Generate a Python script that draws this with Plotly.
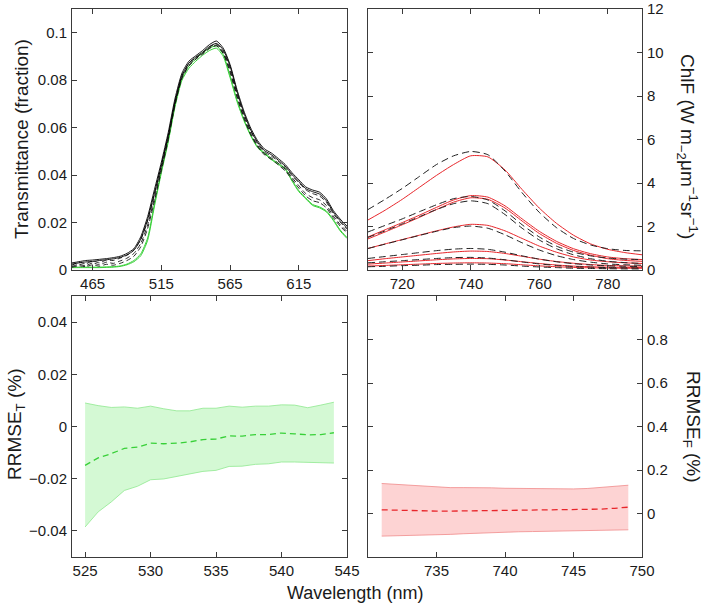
import plotly.graph_objects as go

# ---------------- DATA ----------------
# Top-left: transmittance spectra
T_WL = list(range(450, 655, 5))
T_BLACK_1 = [0.0030, 0.0035, 0.0040, 0.0042, 0.0045, 0.0048, 0.0052, 0.0058, 0.0070, 0.0090,
             0.0140, 0.0225, 0.0340, 0.0455, 0.0580, 0.0725, 0.0830, 0.0880, 0.0903, 0.0925,
             0.0950, 0.0965, 0.0935, 0.0865, 0.0760, 0.0670, 0.0598, 0.0545, 0.0510, 0.0493,
             0.0470, 0.0445, 0.0410, 0.0380, 0.0350, 0.0337, 0.0328, 0.0300, 0.0251, 0.0215, 0.0185]
T_BLACK_2 = [0.0025, 0.0030, 0.0034, 0.0036, 0.0040, 0.0043, 0.0047, 0.0053, 0.0064, 0.0083,
             0.0130, 0.0212, 0.0325, 0.0442, 0.0568, 0.0712, 0.0820, 0.0872, 0.0897, 0.0918,
             0.0942, 0.0955, 0.0928, 0.0858, 0.0752, 0.0662, 0.0590, 0.0538, 0.0503, 0.0486,
             0.0463, 0.0438, 0.0403, 0.0373, 0.0343, 0.0330, 0.0320, 0.0292, 0.0244, 0.0208, 0.0178]
T_DASH_1 = [0.0020, 0.0032, 0.0026, 0.0038, 0.0030, 0.0042, 0.0040, 0.0050, 0.0062, 0.0085,
            0.0128, 0.0208, 0.0320, 0.0440, 0.0565, 0.0710, 0.0818, 0.0870, 0.0895, 0.0915,
            0.0940, 0.0952, 0.0922, 0.0850, 0.0745, 0.0655, 0.0585, 0.0532, 0.0497, 0.0480,
            0.0458, 0.0432, 0.0398, 0.0368, 0.0338, 0.0322, 0.0312, 0.0285, 0.0238, 0.0202, 0.0172]
T_DASH_2 = [0.0015, 0.0024, 0.0018, 0.0030, 0.0022, 0.0033, 0.0028, 0.0038, 0.0050, 0.0070,
            0.0112, 0.0190, 0.0305, 0.0428, 0.0555, 0.0702, 0.0812, 0.0864, 0.0890, 0.0912,
            0.0936, 0.0948, 0.0916, 0.0840, 0.0735, 0.0646, 0.0576, 0.0525, 0.0490, 0.0472,
            0.0450, 0.0425, 0.0390, 0.0355, 0.0322, 0.0305, 0.0296, 0.0272, 0.0228, 0.0192, 0.0162]
T_DASH_3 = [0.0012, 0.0018, 0.0014, 0.0022, 0.0016, 0.0024, 0.0020, 0.0028, 0.0040, 0.0058,
            0.0098, 0.0175, 0.0292, 0.0420, 0.0550, 0.0698, 0.0808, 0.0860, 0.0888, 0.0910,
            0.0933, 0.0945, 0.0912, 0.0832, 0.0728, 0.0640, 0.0570, 0.0520, 0.0485, 0.0466,
            0.0443, 0.0418, 0.0382, 0.0345, 0.0312, 0.0292, 0.0284, 0.0262, 0.0220, 0.0185, 0.0155]
T_GREEN_1 = [0.0010, 0.0010, 0.0010, 0.0010, 0.0010, 0.0011, 0.0012, 0.0015, 0.0022, 0.0035,
             0.0060, 0.0125, 0.0270, 0.0410, 0.0540, 0.0690, 0.0800, 0.0850, 0.0880, 0.0905,
             0.0925, 0.0935, 0.0900, 0.0810, 0.0710, 0.0630, 0.0565, 0.0515, 0.0490, 0.0465,
             0.0445, 0.0425, 0.0375, 0.0330, 0.0300, 0.0272, 0.0262, 0.0245, 0.0209, 0.0165, 0.0133]
T_GREEN_2 = [0.0012, 0.0012, 0.0012, 0.0012, 0.0012, 0.0013, 0.0014, 0.0017, 0.0025, 0.0040,
             0.0068, 0.0135, 0.0280, 0.0418, 0.0548, 0.0698, 0.0808, 0.0860, 0.0890, 0.0915,
             0.0935, 0.0945, 0.0908, 0.0818, 0.0716, 0.0635, 0.0569, 0.0519, 0.0494, 0.0469,
             0.0449, 0.0429, 0.0379, 0.0334, 0.0304, 0.0276, 0.0266, 0.0249, 0.0213, 0.0169, 0.0137]

# Top-right: chlorophyll fluorescence spectra
F_WL = list(range(710, 795, 5))
F_RED = [
    [2.30, 2.75, 3.25, 3.80, 4.35, 4.85, 5.25, 5.20, 4.60, 3.70, 2.85, 2.15, 1.60, 1.20, 0.95, 0.80, 0.70],
    [1.52, 1.85, 2.18, 2.52, 2.88, 3.22, 3.42, 3.35, 2.95, 2.35, 1.78, 1.32, 0.98, 0.75, 0.60, 0.52, 0.48],
    [1.43, 1.75, 2.08, 2.42, 2.78, 3.12, 3.32, 3.25, 2.85, 2.25, 1.68, 1.23, 0.90, 0.68, 0.52, 0.44, 0.40],
    [0.99, 1.20, 1.40, 1.60, 1.80, 1.98, 2.10, 2.05, 1.80, 1.45, 1.10, 0.82, 0.60, 0.46, 0.38, 0.33, 0.30],
    [0.43, 0.52, 0.60, 0.68, 0.76, 0.83, 0.87, 0.85, 0.76, 0.63, 0.50, 0.39, 0.31, 0.25, 0.21, 0.19, 0.18],
    [0.27, 0.32, 0.37, 0.42, 0.47, 0.51, 0.53, 0.52, 0.46, 0.38, 0.30, 0.23, 0.18, 0.15, 0.13, 0.12, 0.11],
    [0.18, 0.21, 0.24, 0.27, 0.30, 0.32, 0.33, 0.32, 0.29, 0.24, 0.19, 0.15, 0.12, 0.10, 0.09, 0.08, 0.08],
]
F_DASH = [
    [2.78, 3.25, 3.75, 4.30, 4.85, 5.25, 5.45, 5.30, 4.55, 3.55, 2.65, 1.95, 1.45, 1.15, 0.98, 0.90, 0.88],
    [1.75, 2.05, 2.35, 2.68, 3.00, 3.28, 3.38, 3.22, 2.72, 2.08, 1.52, 1.10, 0.82, 0.65, 0.55, 0.50, 0.48],
    [1.50, 1.80, 2.12, 2.45, 2.78, 3.05, 3.18, 3.05, 2.55, 1.92, 1.38, 0.98, 0.70, 0.52, 0.40, 0.34, 0.30],
    [0.99, 1.19, 1.39, 1.59, 1.78, 1.95, 2.02, 1.92, 1.62, 1.25, 0.92, 0.66, 0.48, 0.36, 0.28, 0.24, 0.22],
    [0.53, 0.62, 0.71, 0.80, 0.89, 0.96, 0.99, 0.95, 0.82, 0.65, 0.50, 0.38, 0.29, 0.23, 0.19, 0.17, 0.16],
    [0.33, 0.38, 0.43, 0.48, 0.53, 0.57, 0.58, 0.55, 0.47, 0.37, 0.28, 0.21, 0.16, 0.13, 0.11, 0.10, 0.09],
    [0.15, 0.17, 0.20, 0.22, 0.25, 0.26, 0.27, 0.26, 0.23, 0.18, 0.14, 0.11, 0.08, 0.07, 0.06, 0.05, 0.05],
]

# Bottom-left: RRMSE_T
RT_WL = list(range(525, 545))
RT_MEAN = [-0.0149, -0.0120, -0.0104, -0.0084, -0.0079, -0.0064, -0.0066, -0.0064, -0.0059, -0.0050,
           -0.0048, -0.0036, -0.0037, -0.0031, -0.0031, -0.0025, -0.0028, -0.0032, -0.0031, -0.0024]
RT_UPPER = [0.0090, 0.0080, 0.0073, 0.0075, 0.0070, 0.0078, 0.0068, 0.0060, 0.0060, 0.0070,
            0.0070, 0.0078, 0.0074, 0.0078, 0.0078, 0.0083, 0.0082, 0.0072, 0.0082, 0.0093]
RT_LOWER = [-0.0385, -0.0327, -0.0289, -0.0245, -0.0229, -0.0204, -0.0201, -0.0191, -0.0181, -0.0172,
            -0.0168, -0.0153, -0.0152, -0.0145, -0.0143, -0.0136, -0.0136, -0.0138, -0.0140, -0.0140]

# Bottom-right: RRMSE_F
RF_WL = list(range(731, 750))
RF_MEAN = [0.017, 0.015, 0.013, 0.012, 0.011, 0.011, 0.012, 0.013, 0.014, 0.014,
           0.014, 0.015, 0.015, 0.016, 0.017, 0.018, 0.020, 0.024, 0.029]
RF_UPPER = [0.138, 0.134, 0.128, 0.124, 0.121, 0.119, 0.119, 0.120, 0.118, 0.116,
            0.115, 0.114, 0.113, 0.113, 0.113, 0.115, 0.119, 0.124, 0.130]
RF_LOWER = [-0.104, -0.103, -0.101, -0.099, -0.098, -0.096, -0.093, -0.090, -0.087, -0.085,
            -0.084, -0.083, -0.082, -0.081, -0.081, -0.079, -0.078, -0.076, -0.075]

# ---------------- STYLE ----------------
GREEN = "#38d038"
GREEN_FILL = "rgba(120,235,120,0.32)"
GREEN_EDGE = "#8fe88f"
RED = "#e8262b"
RED_FILL = "rgba(250,150,150,0.42)"
RED_EDGE = "#f08a8a"
AXC = "#3a3a3a"
TXT = "#1a1a1a"
FONT = "Liberation Sans, Arial, sans-serif"

fig = go.Figure()

def line(x, y, xa, ya, color, dash="solid", width=1.0):
    fig.add_trace(go.Scatter(x=x, y=y, xaxis=xa, yaxis=ya, mode="lines",
                             line=dict(color=color, dash=dash, width=width, shape="spline", smoothing=0.6),
                             hoverinfo="skip", showlegend=False))

# top-left
for s in (T_GREEN_1, T_GREEN_2):
    line(T_WL, s, "x", "y", GREEN)
for s in (T_DASH_1, T_DASH_2, T_DASH_3):
    line(T_WL, s, "x", "y", "#111111", dash="5px,3px", width=0.9)
for s in (T_BLACK_1, T_BLACK_2):
    line(T_WL, s, "x", "y", "#000000", width=0.9)

# top-right
for s in F_RED:
    line(F_WL, s, "x2", "y2", RED)
for s in F_DASH:
    line(F_WL, s, "x2", "y2", "#222222", dash="7px,4px")

# bottom-left band
fig.add_trace(go.Scatter(x=RT_WL, y=RT_LOWER, xaxis="x3", yaxis="y3", mode="lines",
                         line=dict(color=GREEN_EDGE, width=0.8), hoverinfo="skip", showlegend=False))
fig.add_trace(go.Scatter(x=RT_WL, y=RT_UPPER, xaxis="x3", yaxis="y3", mode="lines", fill="tonexty",
                         fillcolor=GREEN_FILL, line=dict(color=GREEN_EDGE, width=0.8),
                         hoverinfo="skip", showlegend=False))
fig.add_trace(go.Scatter(x=RT_WL, y=RT_MEAN, xaxis="x3", yaxis="y3", mode="lines",
                         line=dict(color=GREEN, width=1.3, dash="6px,4px"), hoverinfo="skip", showlegend=False))

# bottom-right band
fig.add_trace(go.Scatter(x=RF_WL, y=RF_LOWER, xaxis="x4", yaxis="y4", mode="lines",
                         line=dict(color=RED_EDGE, width=0.8), hoverinfo="skip", showlegend=False))
fig.add_trace(go.Scatter(x=RF_WL, y=RF_UPPER, xaxis="x4", yaxis="y4", mode="lines", fill="tonexty",
                         fillcolor=RED_FILL, line=dict(color=RED_EDGE, width=0.8),
                         hoverinfo="skip", showlegend=False))
fig.add_trace(go.Scatter(x=RF_WL, y=RF_MEAN, xaxis="x4", yaxis="y4", mode="lines",
                         line=dict(color=RED, width=1.3, dash="6px,4px"), hoverinfo="skip", showlegend=False))

W, H = 709, 608
def xd(a, b):
    return [a / W, b / W]
def yd(top, bottom):
    return [(H - bottom) / H, (H - top) / H]

common = dict(showline=True, mirror="ticks", linecolor=AXC, linewidth=1, ticks="inside",
              ticklen=5, tickcolor=AXC, showgrid=False, zeroline=False, automargin=False,
              ticklabeloverflow="allow",
              tickfont=dict(family=FONT, size=15, color=TXT))
xc = dict(common, ticklabelstandoff=0)
yc = dict(common, ticklabelstandoff=1)

TOP = 9

fig.update_layout(
    width=W, height=H, margin=dict(l=0, r=0, t=0, b=0, autoexpand=False),
    paper_bgcolor="white", plot_bgcolor="white", showlegend=False,
    font=dict(family=FONT, color=TXT),
    xaxis=dict(domain=xd(72, 347), anchor="y", range=[450, 650],
               tickvals=[465, 515, 565, 615], **xc),
    yaxis=dict(domain=yd(TOP, 270), anchor="x", range=[0, 0.11],
               tickvals=[0, 0.02, 0.04, 0.06, 0.08, 0.1],
               ticktext=["0", "0.02", "0.04", "0.06", "0.08", "0.1"], **yc),
    xaxis2=dict(domain=xd(368, 642), anchor="y2", range=[710, 790],
                tickvals=[720, 740, 760, 780], **xc),
    yaxis2=dict(domain=yd(TOP, 270), anchor="x2", range=[0, 12.0005], side="right",
                tickvals=[0, 2, 4, 6, 8, 10, 12], **yc),
    xaxis3=dict(domain=xd(72, 347), anchor="y3", range=[524, 545.0005],
                tickvals=[525, 530, 535, 540, 545], **xc),
    yaxis3=dict(domain=yd(296, 557), anchor="x3", range=[-0.05, 0.05],
                tickvals=[-0.04, -0.02, 0, 0.02, 0.04],
                ticktext=["\u22120.04", "\u22120.02", "0", "0.02", "0.04"], **yc),
    xaxis4=dict(domain=xd(368, 642), anchor="y4", range=[730, 750.0005],
                tickvals=[735, 740, 745, 750], **xc),
    yaxis4=dict(domain=yd(296, 557), anchor="x4", range=[-0.2, 1.0], side="right",
                tickvals=[0, 0.2, 0.4, 0.6, 0.8], **yc),
)

tf = dict(family=FONT, size=19, color=TXT)
fig.add_annotation(text="Transmittance (fraction)", x=22 / W, y=(H - 139) / H, xref="paper", yref="paper",
                   textangle=-90, showarrow=False, font=tf, xanchor="center", yanchor="middle")
fig.add_annotation(text="ChlF (W m<sub>\u22122</sub>\u03bcm<sup>\u22121</sup>sr<sup>\u22121</sup>)",
                   x=688 / W, y=(H - 146) / H, xref="paper", yref="paper",
                   textangle=90, showarrow=False, font=tf, xanchor="center", yanchor="middle")
fig.add_annotation(text="RRMSE<sub>T</sub> (%)", x=16 / W, y=(H - 424) / H, xref="paper", yref="paper",
                   textangle=-90, showarrow=False, font=tf, xanchor="center", yanchor="middle")
fig.add_annotation(text="RRMSE<sub>F</sub> (%)", x=692 / W, y=(H - 427) / H, xref="paper", yref="paper",
                   textangle=90, showarrow=False, font=tf, xanchor="center", yanchor="middle")
fig.add_annotation(text="Wavelength (nm)", x=355 / W, y=(H - 593) / H, xref="paper", yref="paper",
                   showarrow=False, font=dict(family=FONT, size=18, color=TXT),
                   xanchor="center", yanchor="middle")

fig.write_html("out.html", config={"displayModeBar": False},
               post_script="document.body.style.margin='0';document.body.style.overflow='hidden';")
